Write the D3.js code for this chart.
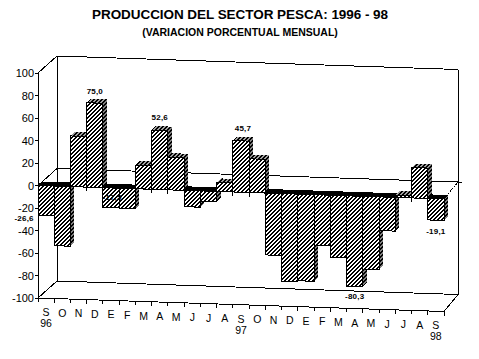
<!DOCTYPE html>
<html><head><meta charset="utf-8">
<script src="https://cdnjs.cloudflare.com/ajax/libs/d3/7.8.5/d3.min.js"></script>
<style>html,body{margin:0;padding:0;background:#fff}svg{display:block}text{font-family:"Liberation Sans",Arial,sans-serif;fill:#000}</style>
</head><body><svg id="c" width="479" height="359"></svg>
<script>
const months=["S","O","N","D","E","F","M","A","M","J","J","A","S","O","N","D","E","F","M","A","M","J","J","A","S"];
const values=[-26.6,-53,45,75.0,-17.5,-18,21,52.6,29,-14.5,-9,8,45.7,30,-55,-78,-77,-45,-55,-80.3,-65,-30,2,27,-19.1];
const yearLabels=[{i:0,t:"96"},{i:12,t:"97"},{i:24,t:"98"}];
const yTicks=[100,80,60,40,20,0,-20,-40,-60,-80,-100];
const dataLabels=[{i:3,t:"75,0"},{i:7,t:"52,6"},{i:12,t:"45,7"},{i:19,t:"-80,3"},{i:24,t:"-19,1"},{i:0,t:"-26,6"},{i:4,t:"-17,5"}];
const title="PRODUCCION DEL SECTOR PESCA: 1996 - 98";
const subtitle="(VARIACION PORCENTUAL MENSUAL)";

const svg=d3.select("#c");
const X0=38,X1=444,wallDx=19,wallDy=-17,barDx=4,barDy=-4;
const x=d3.scaleBand().domain(d3.range(months.length)).range([X0,X1]);
const y=d3.scaleLinear().domain([-100,100]).range([298,73]);
const skew=d3.scaleLinear().domain([X0,X1]).range([0,13.5]);
const py=(xp,v)=>y(v)+skew(xp);

const defs=svg.append("defs");
function hatch(id,bg){
  const p=defs.append("pattern").attr("id",id).attr("width",4).attr("height",4)
    .attr("patternUnits","userSpaceOnUse");
  p.append("rect").attr("width",4).attr("height",4).attr("fill",bg);
  d3.range(4).forEach(r=>d3.range(4).forEach(c=>{
    if((c+r)%4<2) p.append("rect").attr("x",c).attr("y",r).attr("width",1).attr("height",1).attr("fill","#000").attr("shape-rendering","crispEdges");
  }));
}
hatch("front","#fff");
hatch("side","#808080");
hatch("topPos","#a0a0a0");

const line=(g,x1,y1,x2,y2)=>g.append("line").attr("x1",x1).attr("y1",y1).attr("x2",x2).attr("y2",y2)
  .attr("stroke","#000").attr("stroke-width",1).attr("shape-rendering","crispEdges");

// walls
const wall=svg.append("g");
[100,0,-100].forEach(v=>{
  line(wall,X0,y(v),X0+wallDx,y(v)+wallDy);
  line(wall,X0+wallDx,y(v)+wallDy,X1+14,py(X1,v)+wallDy);
});
line(wall,X0+wallDx,y(100)+wallDy,X0+wallDx,y(-100)+wallDy);
line(wall,X1+14,py(X1,100)+wallDy,X1+14,py(X1,-100)+wallDy);
line(wall,X1,py(X1,-100),X1+14,py(X1,-100)+wallDy);
line(wall,X1,py(X1,0),X1+14,py(X1,0)+wallDy).attr("stroke-dasharray","2,1");
line(wall,X1+14,py(X1,0)+wallDy,X1+18,py(X1,0)+wallDy);

// front zero line and ticks
const ax=svg.append("g");
line(ax,X0,py(X0,0),X1,py(X1,0));
line(ax,X0,py(X0,-100),X1,py(X1,-100));
d3.range(months.length+1).forEach(i=>{
  const xp=X0+i*x.bandwidth();
  line(ax,xp,py(xp,0),xp,py(xp,0)+4);
  line(ax,xp,py(xp,-100),xp,py(xp,-100)+4);
});

// bars
const bars=svg.append("g").selectAll("g").data(values).join("g").attr("shape-rendering","crispEdges");
const pts=a=>a.map(p=>p.join(",")).join(" ");
bars.each(function(v,i){
  const g=d3.select(this);
  const l=x(i), r=l+x.bandwidth();
  const yl0=py(l,0), yr0=py(r,0), yl=py(l,v), yr=py(r,v);
  const tl=v>0?yl:yl0, tr=v>0?yr:yr0;
  g.append("polygon").attr("fill","url(#side)").attr("points",pts([[r,yr],[r+barDx,yr+barDy],[r+barDx,yr0+barDy],[r,yr0]]));
  g.append("polygon").attr("fill",v>0?"url(#topPos)":"#000").attr("points",pts([[l,tl],[l+barDx,tl+barDy],[r+barDx,tr+barDy],[r,tr]]));
  g.append("polygon").attr("fill","url(#front)").attr("stroke","#000").attr("stroke-width",1)
    .attr("points",pts([[l,yl],[r,yr],[r,yr0],[l,yl0]]));
});

// y axis
const ya=svg.append("g");
line(ya,X0,y(100),X0,y(-100));
yTicks.forEach(v=>{
  line(ya,X0-3,y(v),X0,y(v));
  ya.append("text").attr("x",X0-4).attr("y",y(v)+4).attr("text-anchor","end").attr("font-size",11).text(v);
});

// month labels
const labels=svg.append("g");
months.forEach((m,i)=>{
  const c=x(i)+x.bandwidth()/2;
  labels.append("text").attr("x",c).attr("y",py(c,-100)+18).attr("text-anchor","middle").attr("font-size",10.5).text(m);
});
yearLabels.forEach(d=>{
  const c=x(d.i)+x.bandwidth()/2;
  labels.append("text").attr("x",c).attr("y",py(c,-100)+29).attr("text-anchor","middle").attr("font-size",10.5).text(d.t);
});

// data labels
const dl=svg.append("g");
const off={3:[0,-9],7:[0,-10],12:[2,-10],19:[0,13],24:[0,14],0:[-22,5],4:[1,-8]};
dataLabels.forEach(d=>{
  const c=x(d.i)+x.bandwidth()/2, o=off[d.i];
  dl.append("text").attr("x",c+o[0]).attr("y",py(c,values[d.i])+o[1]).attr("text-anchor","middle")
    .attr("font-size",8).attr("font-weight","bold").attr("letter-spacing",0.2).text(d.t);
});

svg.append("text").attr("x",240).attr("y",19).attr("text-anchor","middle").attr("font-size",13.5).attr("font-weight","bold").attr("textLength",296).text(title);
svg.append("text").attr("x",240).attr("y",36).attr("text-anchor","middle").attr("font-size",10.5).attr("font-weight","bold").text(subtitle);
</script></body></html>
